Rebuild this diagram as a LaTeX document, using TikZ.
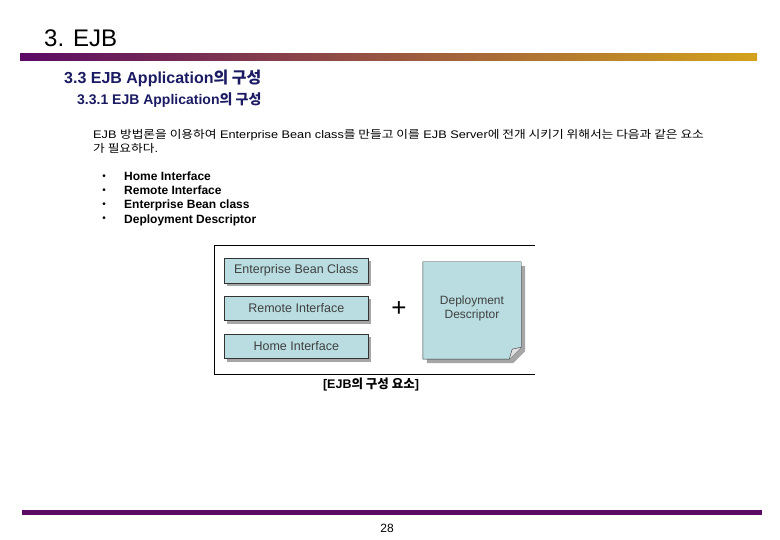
\documentclass[tikz,border=0pt]{standalone}
\usepackage{fontspec}
\setmainfont{Liberation Sans}
\newfontfamily\kr{Noto Sans CJK KR}
\usepackage{xcolor}
\usepackage{tikz}
\usetikzlibrary{positioning,calc,shadows}

\definecolor{barpurple}{HTML}{5C0A64}
\definecolor{bargold}{HTML}{D4A21C}
\definecolor{headblue}{HTML}{1B1B63}
\definecolor{partblue}{HTML}{B9DDE0}

\tikzset{
  heading/.style={anchor=base west, inner sep=0pt, text=headblue, font=\bfseries},
  bodytext/.style={anchor=base west, inner sep=0pt, font=\fontsize{11}{13}\selectfont},
  itemtext/.style={anchor=base west, inner sep=0pt, font=\fontsize{12}{14}\selectfont\bfseries},
  dot/.style={inner sep=0pt, font=\fontsize{10}{11}\selectfont},
  part/.style={draw=black!80, fill=partblue, minimum width=144pt, minimum height=24.5pt,
    inner sep=0pt, text=black!75, font=\fontsize{12.5}{14}\selectfont,
    drop shadow={shadow xshift=3pt, shadow yshift=-3pt, fill=black!35, opacity=1}},
}

\begin{document}
\begin{tikzpicture}[x=1pt, y=-1pt]
  \useasboundingbox (0,0) rectangle (780,540);

  % Title and bars
  \node[anchor=base west, inner sep=0pt, font=\fontsize{24}{28}\selectfont] (title) at (44,47) {3. EJB};
  \shade[left color=barpurple, right color=bargold] (20,54) rectangle (757,61);
  \fill[barpurple] (22,510) rectangle (762,515);
  \node[font=\fontsize{12}{14}\selectfont, inner sep=0pt] (page) at (387,528) {28};

  % Headings
  \node[heading, font=\fontsize{16}{18}\selectfont\bfseries] (sec) at (64,84) {3.3 EJB Application{\kr 의 구성}};
  \node[heading, font=\fontsize{14}{16}\selectfont\bfseries] (subsec) at (77,105) {3.3.1 EJB Application{\kr 의 구성}};

  % Description
  \node[bodytext] (desc1) at (93,138.5) {\scalebox{1.157}[1]{EJB {\kr 방법론을 이용하여} Enterprise Bean class{\kr 를 만들고 이를} EJB Server{\kr 에 전개 시키기 위해서는 다음과 같은 요소}}};
  \node[bodytext] (desc2) at (93,153) {\scalebox{1.157}[1]{{\kr 가 필요하다}.}};

  % Item list
  \node[dot] (b1) at (104,177) {\textbullet};
  \node[itemtext] (item1) at (124,180.5) {Home Interface};
  \node[dot] (b2) at (104,191) {\textbullet};
  \node[itemtext] (item2) at (124,195) {Remote Interface};
  \node[dot] (b3) at (104,205) {\textbullet};
  \node[itemtext] (item3) at (124,209) {Enterprise Bean class};
  \node[dot] (b4) at (104,219) {\textbullet};
  \node[itemtext] (item4) at (124,223.5) {Deployment Descriptor};

  % Figure frame
  \draw[line width=1pt] (535,246) -- (214,246) -- (214,375) -- (535,375);

  % EJB parts
  \node[part] (ebc) at (296.3,270.5) {Enterprise Bean Class};
  \node[part] (remote) at (296.3,308.3) {Remote Interface};
  \node[part] (home) at (296.3,346.3) {Home Interface};
  \node[font=\fontsize{26}{28}\selectfont, inner sep=0pt] (plus) at (399,309) {+};

  % Deployment descriptor note with folded corner
  \node[minimum width=98pt, minimum height=97pt, inner sep=0pt] (dd) at (472,310.5) {};
  \fill[black!35] ($(dd.north west)+(4,4)$) -- ($(dd.north east)+(4,4)$) -- ($(dd.south east)+(4,-8)$)
    -- ($(dd.south east)+(-8,4)$) -- ($(dd.south west)+(4,4)$) -- cycle;
  \filldraw[draw=black!80, fill=partblue] (dd.north west) -- (dd.north east) -- ($(dd.south east)+(0,-12)$)
    -- ($(dd.south east)+(-12,0)$) -- (dd.south west) -- cycle;
  \filldraw[draw=black!80, fill=black!12] ($(dd.south east)+(-12,0)$) -- ($(dd.south east)+(-9,-10)$)
    -- ($(dd.south east)+(0,-12)$);
  \node[align=center, inner sep=0pt, text=black!75, font=\fontsize{12}{14}\selectfont] (ddtext) at (472,308) {Deployment\\Descriptor};

  % Caption
  \node[inner sep=0pt, font=\fontsize{12.5}{14}\selectfont\bfseries] (caption) at (371,385) {[EJB{\kr\bfseries 의 구성 요소}]};
\end{tikzpicture}
\end{document}
